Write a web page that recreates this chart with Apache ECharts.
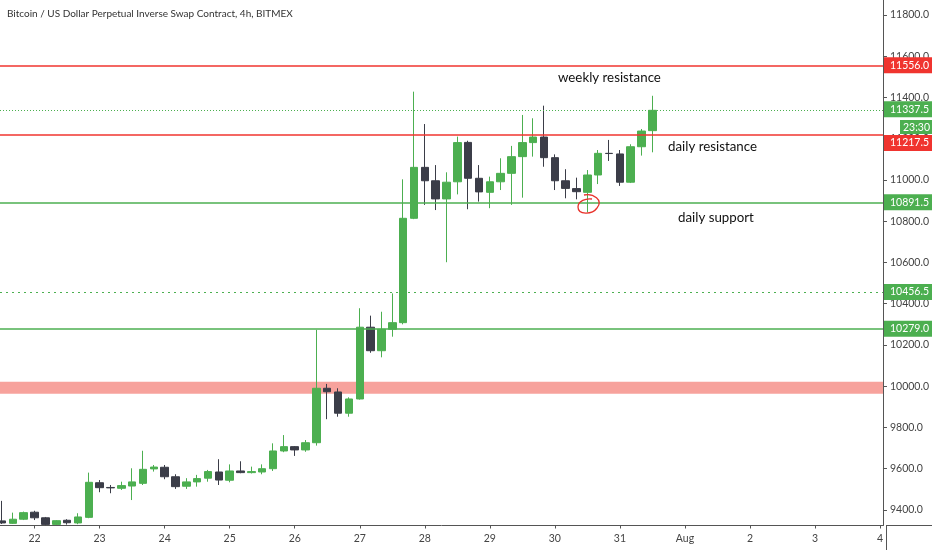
<!DOCTYPE html>
<html><head><meta charset="utf-8">
<script src="https://cdn.jsdelivr.net/npm/echarts@6/dist/echarts.min.js"></script>
<style>html,body{margin:0;padding:0;background:#fff}#c{width:932px;height:550px}</style>
</head><body><div id="c"></div>
<script>
// ---- data ----
const times = [
 '07-21 12','07-21 16','07-21 20',
 '07-22 00','07-22 04','07-22 08','07-22 12','07-22 16','07-22 20',
 '07-23 00','07-23 04','07-23 08','07-23 12','07-23 16','07-23 20',
 '07-24 00','07-24 04','07-24 08','07-24 12','07-24 16','07-24 20',
 '07-25 00','07-25 04','07-25 08','07-25 12','07-25 16','07-25 20',
 '07-26 00','07-26 04','07-26 08','07-26 12','07-26 16','07-26 20',
 '07-27 00','07-27 04','07-27 08','07-27 12','07-27 16','07-27 20',
 '07-28 00','07-28 04','07-28 08','07-28 12','07-28 16','07-28 20',
 '07-29 00','07-29 04','07-29 08','07-29 12','07-29 16','07-29 20',
 '07-30 00','07-30 04','07-30 08','07-30 12','07-30 16','07-30 20',
 '07-31 00','07-31 04','07-31 08','07-31 12'
];
const opens  = [9347,9335,9355, 9389,9362,9330,9350,9337,9364, 9532,9509,9505,9516,9529,9599, 9607,9561,9515,9536,9554,9584, 9544,9589,9581,9584,9600,9686, 9707,9691,9726,9990,9972,9869, 9938,10286,10172,10276,10308,10814, 11061,10996,10908,10991,11182,11008, 10940,10991,11032,11113,11181,11208, 11108,10996,10958,10940,11024,11129, 11126,10989,11161,11239];
const closes = [9337,9355,9387, 9362,9330,9348,9338,9366,9534, 9508,9507,9518,9536,9597,9608, 9561,9513,9536,9552,9586,9545, 9589,9581,9586,9600,9686,9707, 9691,9726,9990,9973,9869,9938, 10286,10172,10276,10308,10814,11061, 10996,10908,10989,11181,11008,10942, 10991,11032,11113,11181,11208,11108, 10996,10959,10943,11024,11129,11128, 10989,11161,11237,11337.5];
const lows   = [9332,9332,9351, 9351,9326,9327,9329,9331,9360, 9486,9481,9497,9448,9521,9586, 9549,9502,9502,9513,9537,9521, 9534,9578,9577,9573,9589,9680, 9662,9682,9712,9840,9852,9852, 9935,10162,10140,10240,10300,10810, 10879,10854,10601,10930,10858,10895, 10863,10951,10879,10914,11113,11064, 10951,10911,10906,10843,10980,11092, 10971,10985,11118,11134];
const highs  = [9444,9387,9392, 9396,9366,9351,9355,9384,9581, 9545,9521,9537,9602,9687,9618, 9618,9573,9554,9570,9594,9646, 9621,9636,9610,9621,9723,9763, 9710,9739,10273,10011,9990,9946, 10378,10342,10361,10450,11003,11428, 11271,11072,11037,11210,11190,11072, 11016,11105,11165,11315,11299,11360, 11124,11052,11011,11048,11145,11194, 11145,11173,11247,11408];

const levelValues = [11556.0, 11337.5, 11217.5, 10891.5, 10456.5, 10279.0];
const zoneLow = 9963, zoneHigh = 10022;
const yTicks = [9400,9600,9800,10000,10200,10400,10600,10800,11000,11200,11400,11600,11800];
const dayTickSlots = [6,12,18,24,30,36,42,48,54,60,66,72,78,84];
const dayLabels = ['22','23','24','25','26','27','28','29','30','31','Aug','2','3','4'];
const titleText = 'Bitcoin / US Dollar Perpetual Inverse Swap Contract, 4h, BITMEX';
const notes = ['weekly resistance','daily resistance','daily support'];
const countdown = '23:30';

// ---- styles ----
const UP = '#4caf50', DOWN = '#3b3d48', RED = '#f0342f';
const FONT = 'Lato, "Noto Sans", sans-serif';
const levelStyles = [
  {color: RED, type: 'solid', width: 1.5, shift: 0},
  {color: UP, type: [1, 2], width: 1, shift: -1},
  {color: RED, type: 'solid', width: 1.5, shift: 8},
  {color: UP, type: 'solid', width: 1.5, shift: 0},
  {color: UP, type: [2, 4], width: 1.2, shift: 0},
  {color: UP, type: 'solid', width: 1.5, shift: 0}
];

function slotOf(t) {
  const day = parseInt(t.slice(3, 5), 10);
  const hour = parseInt(t.slice(6, 8), 10);
  return (day - 21) * 6 + hour / 4;
}
const candles = times.map((t, i) => [slotOf(t), opens[i], closes[i], lows[i], highs[i]]);

const loopStyle = {fill: 'none', stroke: '#e8312a', lineWidth: 1.3};
const noteStyle = {fill: '#111', fontSize: 13.3, fontFamily: FONT, verticalAlign: 'middle'};

const chart = echarts.init(document.getElementById('c'), null, {renderer: 'canvas'});
chart.setOption({
  animation: false,
  backgroundColor: '#ffffff',
  textStyle: {fontFamily: FONT},
  title: {
    text: titleText, left: 7, top: 9, padding: 0,
    textStyle: {fontSize: 10, fontWeight: 'normal', color: '#333', fontFamily: FONT}
  },
  grid: {left: 0, right: 46, top: 0, bottom: 24.5},
  xAxis: {
    type: 'value', min: 2.81, max: 84.27,
    splitLine: {show: false},
    axisLine: {show: true, lineStyle: {color: '#555', width: 1}},
    axisTick: {show: true, length: 3, customValues: dayTickSlots, lineStyle: {color: '#555'}},
    axisLabel: {
      customValues: dayTickSlots, margin: 8, fontSize: 10.5, color: '#444', fontFamily: FONT,
      formatter: v => dayLabels[dayTickSlots.indexOf(v)] || ''
    }
  },
  yAxis: {
    type: 'value', position: 'right', min: 9324.6, max: 11872.4, scale: true,
    splitLine: {show: false},
    axisLine: {show: true, lineStyle: {color: '#555', width: 1}},
    axisTick: {show: true, length: 4, customValues: yTicks, lineStyle: {color: '#555'}},
    axisLabel: {
      customValues: yTicks, margin: 7, fontSize: 10.5, color: '#444', fontFamily: FONT,
      formatter: v => v.toFixed(1)
    }
  },
  series: [{
    type: 'candlestick',
    data: candles,
    barWidth: 8,
    itemStyle: {color: UP, color0: DOWN, borderColor: UP, borderColor0: DOWN, borderWidth: 1},
    markArea: {
      silent: true,
      itemStyle: {color: '#f7a29c', opacity: 1},
      data: [[{yAxis: zoneLow}, {yAxis: zoneHigh}]]
    },
    markLine: {
      silent: true, symbol: ['none', 'none'], animation: false,
      data: levelValues.map((v, i) => ({
        yAxis: v,
        lineStyle: {color: levelStyles[i].color, type: levelStyles[i].type, width: levelStyles[i].width},
        label: {
          show: true, position: 'end', distance: 1,
          offset: [0, levelStyles[i].shift],
          backgroundColor: levelStyles[i].color,
          color: '#fff', fontSize: 10.5, fontFamily: FONT,
          padding: [3, 8, 2, 6],
          formatter: () => v.toFixed(1)
        }
      }))
    }
  }],
  graphic: [
    {type: 'line', z: 10, shape: {x1: 886, y1: 525.5, x2: 932, y2: 525.5}, style: {stroke: '#555', lineWidth: 1}},
    {type: 'line', z: 10, shape: {x1: 886.5, y1: 525, x2: 886.5, y2: 550}, style: {stroke: '#555', lineWidth: 1}},
    {type: 'rect', z: 10, shape: {x: 900, y: 120, width: 32, height: 14}, style: {fill: UP}},
    {type: 'text', z: 11, x: 903, y: 127.5, style: {text: countdown, fill: '#fff', fontSize: 10.5, fontFamily: FONT, verticalAlign: 'middle'}},
    {type: 'text', z: 10, x: 558, y: 78, style: Object.assign({text: notes[0]}, noteStyle)},
    {type: 'text', z: 10, x: 668, y: 147, style: Object.assign({text: notes[1]}, noteStyle)},
    {type: 'text', z: 10, x: 678, y: 218, style: Object.assign({text: notes[2]}, noteStyle)},
    {type: 'bezierCurve', z: 10, shape: {x1: 584, y1: 195, cpx1: 593, cpy1: 193, cpx2: 604, cpy2: 200, x2: 597, y2: 208}, style: loopStyle},
    {type: 'bezierCurve', z: 10, shape: {x1: 597, y1: 208, cpx1: 592, cpy1: 215, cpx2: 578, cpy2: 215, x2: 578, y2: 207}, style: loopStyle},
    {type: 'bezierCurve', z: 10, shape: {x1: 578, y1: 207, cpx1: 578, cpy1: 201, cpx2: 586, cpy2: 198, x2: 592, y2: 199}, style: loopStyle}
  ]
});
</script></body></html>
